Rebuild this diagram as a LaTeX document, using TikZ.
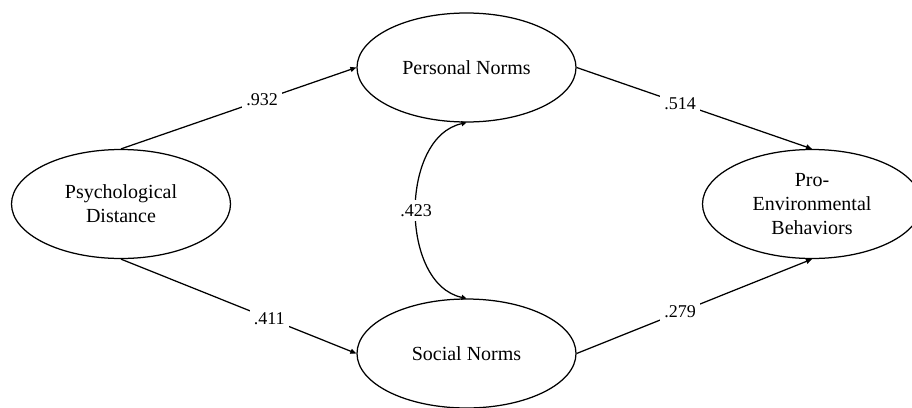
\documentclass[tikz,border=0pt]{standalone}
\usepackage{fontspec}
\setmainfont{Liberation Serif}
\usetikzlibrary{shapes.geometric,arrows.meta}
\tikzset{every picture/.style={x=1pt,y=-1pt,line width=1.25pt}}
\tikzset{latent/.style={ellipse,draw,minimum width=219,minimum height=109,align=center,font=\fontsize{20}{24}\selectfont}}
\tikzset{path/.style={-{Triangle[length=6pt,width=5pt]}}}
\tikzset{cov/.style={{Triangle[length=5pt,width=5pt]}-{Triangle[length=5pt,width=5pt]}}}
\tikzset{coef/.style={font=\fontsize{18}{20}\selectfont,fill=white,inner sep=4pt}}

\begin{document}
\begin{tikzpicture}
\useasboundingbox (0,0) rectangle (912,407);
\node [latent] (pd) at (121,204) {Psychological\\Distance};
\node [latent] (pn) at (466.5,67.5) {Personal Norms};
\node [latent] (sn) at (466.5,353.5) {Social Norms};
\node [latent] (pe) at (812,204) {Pro-\\Environmental\\Behaviors};
\draw [path] (pd.north) -- node [coef,pos=.6] {.932} (pn.west);
\draw [path] (pd.south) -- node [coef,pos=.63] {.411} (sn.west);
\draw [path] (pn.east) -- node [coef,pos=.44] {.514} (pe.north);
\draw [path] (sn.east) -- node [coef,pos=.44] {.279} (pe.south);
\draw [cov] (pn.south) to [bend right=78] node [coef] {.423} (sn.north);
\end{tikzpicture}
\end{document}
